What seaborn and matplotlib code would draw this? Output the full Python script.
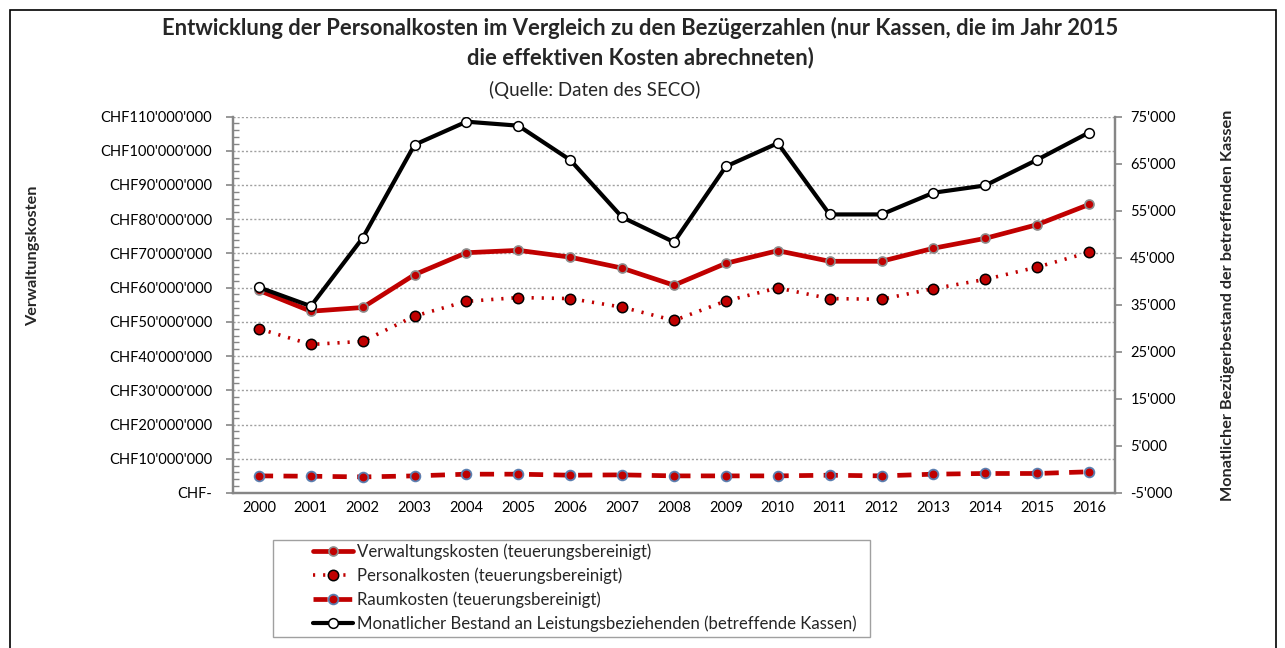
import matplotlib
matplotlib.use("Agg")
import matplotlib.pyplot as plt
import matplotlib.ticker as mticker
from matplotlib.patches import Rectangle
from matplotlib.lines import Line2D
import seaborn as sns
import pandas as pd

years = list(range(2000, 2017))
verwaltung = [59.2, 53.1, 54.2, 63.8, 70.2, 70.9, 68.9, 65.7, 60.7, 67.1, 70.8, 67.7, 67.7, 71.5, 74.4, 78.4, 84.3]
personal = [48.0, 43.4, 44.3, 51.7, 56.0, 57.1, 56.8, 54.3, 50.4, 56.1, 59.9, 56.8, 56.6, 59.7, 62.4, 66.0, 70.3]
raum = [5.0, 4.9, 4.7, 5.0, 5.5, 5.5, 5.2, 5.3, 5.0, 5.0, 5.0, 5.2, 5.0, 5.5, 5.7, 5.7, 6.2]
bestand = [38700, 34700, 49200, 69000, 73900, 73050, 65760, 53600, 48310, 64380, 69330, 54190, 54190, 58800, 60350, 65810, 71600]

labels = ["Verwaltungskosten (teuerungsbereinigt)",
          "Personalkosten (teuerungsbereinigt)",
          "Raumkosten (teuerungsbereinigt)",
          "Monatlicher Bestand an Leistungsbeziehenden (betreffende Kassen)"]

title = ("Entwicklung der Personalkosten im Vergleich zu den Bezügerzahlen (nur Kassen, die im Jahr 2015\n"
         "die effektiven Kosten abrechneten)")
subtitle = "(Quelle: Daten des SECO)"

sns.set_theme(style="white")
plt.rcParams['font.family'] = ['Lato', 'DejaVu Sans']

W, H = 1285, 648
fig = plt.figure(figsize=(W / 100, H / 100), dpi=100)
fig.patch.set_facecolor("white")

def fx(px):
    return px / W

def fy(py):
    return 1 - py / H

ax_l, ax_r, ax_t, ax_b = 233, 1115, 116.5, 493
ax = fig.add_axes([fx(ax_l), fy(ax_b), fx(ax_r - ax_l), (ax_b - ax_t) / H])
ax2 = ax.twinx()

df = pd.DataFrame({"Jahr": years,
                   "verw": [v * 1e6 for v in verwaltung],
                   "pers": [v * 1e6 for v in personal],
                   "raum": [v * 1e6 for v in raum],
                   "best": bestand})

red = "#C00000"
sty_v = dict(color=red, lw=3.4, linestyle="-", marker="o", markersize=6.5, markerfacecolor=red,
             markeredgecolor="#8C8C8C", markeredgewidth=1.2)
sty_p = dict(color=red, lw=2.6, linestyle=(0, (0.6, 2.2)), marker="o", markersize=7.5,
             markerfacecolor=red, markeredgecolor="black", markeredgewidth=1.1)
sty_r = dict(color=red, lw=3.4, linestyle=(0, (3, 2.2)), marker="o", markersize=7,
             markerfacecolor=red, markeredgecolor="#5B7FB0", markeredgewidth=1.3)
sty_b = dict(color="black", lw=3.0, linestyle="-", marker="o", markersize=7,
             markerfacecolor="white", markeredgecolor="black", markeredgewidth=1.1)

sns.lineplot(data=df, x="Jahr", y="verw", ax=ax, zorder=4, **sty_v)
sns.lineplot(data=df, x="Jahr", y="pers", ax=ax, zorder=4, **sty_p)
sns.lineplot(data=df, x="Jahr", y="raum", ax=ax, zorder=4, **sty_r)
sns.lineplot(data=df, x="Jahr", y="best", ax=ax2, zorder=5, **sty_b)

gray = "#868686"
ax.set_xlim(1999.5, 2016.5)
ax.set_ylim(0, 110e6)
ax2.set_ylim(-5000, 75000)
ax.set_xticks(years)
ax.set_xticklabels([str(y) for y in years])
ax.set_yticks([i * 10e6 for i in range(12)])
ax.yaxis.set_minor_locator(mticker.MultipleLocator(2e6))
ax2.set_yticks(list(range(-5000, 75001, 10000)))

def chf(v, pos):
    if v == 0:
        return "CHF-"
    return "CHF" + f"{int(round(v)):,}".replace(",", "'")

def num(v, pos):
    return f"{int(round(v)):,}".replace(",", "'")

ax.yaxis.set_major_formatter(mticker.FuncFormatter(chf))
ax2.yaxis.set_major_formatter(mticker.FuncFormatter(num))

ax.grid(axis="y", which="major", color="#A0A0A0", linestyle=(0, (1.5, 1.5)), lw=1.0)
ax.grid(axis="x", visible=False)
ax2.grid(False)
ax.set_axisbelow(True)

for a in (ax, ax2):
    for s in a.spines.values():
        s.set_color(gray)
        s.set_linewidth(1.6)
    a.spines["top"].set_visible(False)
    a.set_xlabel("")
    a.set_ylabel("")

ax.tick_params(axis="y", which="major", direction="out", length=5, width=1.2, color=gray,
               labelsize=10.5, pad=10, labelcolor="black")
ax.tick_params(axis="y", which="minor", direction="in", length=4, width=1.0, color=gray, left=True)
ax.tick_params(axis="x", length=0, labelsize=10.5, pad=6, labelcolor="black")
ax2.tick_params(axis="y", which="major", direction="out", length=5, width=1.2, color=gray,
                labelsize=10.5, pad=6, labelcolor="black", right=True)

fig.text(fx(640), fy(43), title, ha="center", va="center", fontsize=15.8, fontweight="bold",
         linespacing=1.42)
fig.text(fx(595), fy(90), subtitle, ha="center", va="center", fontsize=13.5)

fig.text(fx(33), fy(256), "Verwaltungskosten", rotation=90, ha="center", va="center",
         fontsize=11.7, fontweight="bold")
fig.text(fx(1228), fy(305), "Monatlicher Bezügerbestand der betreffenden Kassen", rotation=90,
         ha="center", va="center", fontsize=11.7, fontweight="bold")

# outer border
fig.add_artist(Rectangle((fx(10), fy(660)), fx(1266), (650) / H, transform=fig.transFigure,
                         fill=False, edgecolor="black", lw=1.2, clip_on=False))
# legend frame
fig.add_artist(Rectangle((fx(273), fy(637)), fx(597), 97 / H, transform=fig.transFigure,
                         fill=False, edgecolor="#A0A0A0", lw=1.0))

handles = [Line2D([], [], **sty_v), Line2D([], [], **sty_p),
           Line2D([], [], **sty_r), Line2D([], [], **sty_b)]
fig.legend(handles, labels, loc="upper left", bbox_to_anchor=(fx(313), fy(543)), frameon=False,
           fontsize=12.1, handlelength=2.38, handletextpad=0.24, labelspacing=0.45,
           borderaxespad=0, borderpad=0)

fig.savefig("out.png", dpi=100, facecolor="white")
